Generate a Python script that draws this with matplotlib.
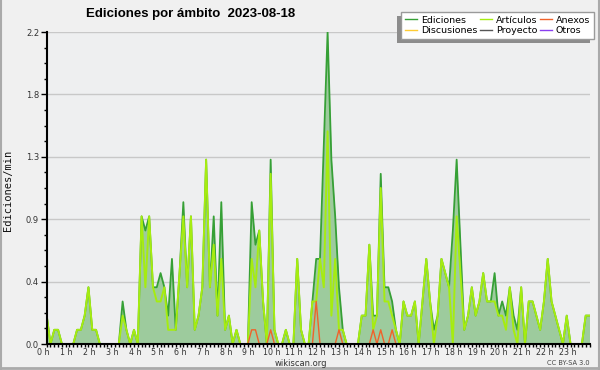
import matplotlib
matplotlib.use('Agg')
import matplotlib.pyplot as plt
import matplotlib.transforms as mtransforms
from matplotlib.lines import Line2D
from matplotlib.patches import Rectangle
import numpy as np

title = "Ediciones por ámbito  2023-08-18"
hour_labels = [f"{h} h" for h in range(24)]
ytick_values = [0.0, 0.44, 0.88, 1.32, 1.76, 2.2]
ytick_labels = ["0.0", "0.4", "0.9", "1.3", "1.8", "2.2"]
series_names = ["Ediciones", "Discusiones", "Artículos", "Proyecto", "Anexos", "Otros"]

# edits per minute, 10-minute bins (144 per day)
ediciones = [
    0.2, 0, 0.1, 0.1, 0, 0, 0, 0, 0.1, 0.1,
    0.2, 0.4, 0.1, 0.1, 0, 0, 0, 0, 0, 0,
    0.3, 0.1, 0, 0.1, 0, 0.9, 0.8, 0.9, 0.4, 0.4,
    0.5, 0.4, 0.2, 0.6, 0.1, 0.5, 1.0, 0.4, 0.9, 0.1,
    0.2, 0.4, 1.3, 0.4, 0.9, 0.2, 1.0, 0.1, 0.2, 0,
    0.1, 0, 0, 0, 1.0, 0.7, 0.8, 0.3, 0, 1.3,
    0.1, 0, 0, 0.1, 0, 0, 0.6, 0.1, 0, 0,
    0.3, 0.6, 0.6, 1.4, 2.2, 1.3, 0.9, 0.4, 0.1, 0,
    0, 0, 0, 0.2, 0.2, 0.7, 0.2, 0.2, 1.2, 0.4,
    0.4, 0.3, 0.1, 0, 0.3, 0.2, 0.2, 0.3, 0, 0.3,
    0.6, 0.3, 0.1, 0.2, 0.6, 0.5, 0.4, 0.8, 1.3, 0.7,
    0.1, 0.2, 0.4, 0.2, 0.3, 0.5, 0.3, 0.3, 0.5, 0.2,
    0.3, 0.2, 0.4, 0.2, 0.1, 0.4, 0, 0.3, 0.3, 0.2,
    0.1, 0.3, 0.6, 0.3, 0.2, 0.1, 0, 0.2, 0, 0,
    0, 0, 0.2, 0.2,
]
articulos = [
    0.2, 0, 0.1, 0.1, 0, 0, 0, 0, 0.1, 0.1,
    0.2, 0.4, 0.1, 0.1, 0, 0, 0, 0, 0, 0,
    0.2, 0.1, 0, 0.1, 0, 0.9, 0.4, 0.9, 0.4, 0.3,
    0.3, 0.4, 0.1, 0.1, 0.1, 0.5, 0.9, 0.4, 0.9, 0.1,
    0.2, 0.4, 1.3, 0.4, 0.7, 0.2, 0.6, 0.1, 0.2, 0,
    0.1, 0, 0, 0, 0.6, 0.4, 0.8, 0.3, 0, 1.2,
    0.1, 0, 0, 0.1, 0, 0, 0.6, 0.1, 0, 0,
    0.3, 0.3, 0.6, 0.4, 1.5, 0.2, 0.6, 0.1, 0.1, 0,
    0, 0, 0, 0.2, 0.2, 0.7, 0.1, 0.2, 1.1, 0.3,
    0.3, 0.2, 0.1, 0, 0.3, 0.2, 0.2, 0.3, 0, 0.3,
    0.6, 0.3, 0, 0.2, 0.6, 0.5, 0.4, 0, 0.9, 0.5,
    0.1, 0.2, 0.4, 0.2, 0.3, 0.5, 0.3, 0.3, 0.3, 0.2,
    0.2, 0.1, 0.4, 0.1, 0, 0.4, 0, 0.3, 0.3, 0.2,
    0.1, 0.3, 0.6, 0.3, 0.2, 0.1, 0, 0.2, 0, 0,
    0, 0, 0.2, 0.2,
]
anexos = [
    0, 0, 0, 0, 0, 0, 0, 0, 0, 0,
    0, 0, 0, 0, 0, 0, 0, 0, 0, 0,
    0, 0, 0, 0, 0, 0, 0, 0, 0, 0,
    0, 0, 0, 0, 0, 0, 0, 0, 0, 0,
    0, 0, 0, 0, 0, 0, 0, 0, 0, 0,
    0, 0, 0, 0, 0.1, 0.1, 0, 0, 0, 0.1,
    0, 0, 0, 0, 0, 0, 0, 0, 0, 0,
    0, 0.3, 0, 0, 0, 0, 0, 0.1, 0, 0,
    0, 0, 0, 0, 0, 0, 0.1, 0, 0.1, 0,
    0, 0.1, 0, 0, 0, 0, 0, 0, 0, 0,
    0, 0, 0, 0, 0, 0, 0, 0, 0, 0,
    0, 0, 0, 0, 0, 0, 0, 0, 0, 0,
    0, 0, 0, 0, 0, 0, 0, 0, 0, 0,
    0, 0, 0, 0, 0, 0, 0, 0, 0, 0,
    0, 0, 0, 0,
]

colors = {
    "Ediciones": "#36a036",
    "Discusiones": "#ffcc33",
    "Artículos": "#a6ec10",
    "Proyecto": "#555555",
    "Anexos": "#f0622a",
    "Otros": "#8a3ff0",
}
fill_color = "#9dcb9d"

W, H = 600, 370
fig = plt.figure(figsize=(6, 3.7), dpi=100, facecolor="#f0f0f0")
L, R, T, B = 46.7, 589.5, 32, 344
ax = fig.add_axes([L / W, 1 - B / H, (R - L) / W, (B - T) / H])
ax.set_facecolor("#eeeff0")

x = np.arange(len(ediciones))
ax.fill_between(x, ediciones, 0, color=fill_color, lw=0, zorder=1)
ax.plot(x, ediciones, color=colors["Ediciones"], lw=1.3, zorder=3)
ax.plot(x, articulos, color=colors["Artículos"], lw=1.4, zorder=4)
ax.plot(x, anexos, color=colors["Anexos"], lw=1.0, zorder=5)

ax.set_xlim(0, len(ediciones) - 1)
ax.set_ylim(0, 2.2)

ax.set_yticks(ytick_values)
ax.set_yticklabels(ytick_labels)
ax.set_yticks(np.arange(0, 2.21, 0.11), minor=True)
ax.set_xticks(np.arange(0, 144, 6))
ax.set_xticklabels(hour_labels)
ax.set_xticks(np.arange(0, 144, 1), minor=True)

ax.grid(axis="y", which="major", color="#c8c8c8", lw=1.0, zorder=0)
ax.set_axisbelow(True)
for s in ["top", "right"]:
    ax.spines[s].set_visible(False)
for s in ["left", "bottom"]:
    ax.spines[s].set_linewidth(1.5)
    ax.spines[s].set_color("black")
    ax.spines[s].set_zorder(6)

ax.tick_params(axis="y", which="major", length=4.5, width=1, pad=1, labelsize=6, labelcolor="#333333")
ax.tick_params(axis="y", which="minor", length=2.2, width=1)
ax.tick_params(axis="x", which="major", length=2.5, width=1, pad=0.2, labelsize=5.7, labelcolor="#333333")
ax.tick_params(axis="x", which="minor", length=2.5, width=1)

offset = mtransforms.ScaledTranslation(-0.03, 0, fig.dpi_scale_trans)
for lab in ax.get_xticklabels():
    lab.set_transform(lab.get_transform() + offset)

fig.text(86 / W, 1 - 13.5 / H, title, fontsize=9.5, fontweight="bold", family="Liberation Sans",
         ha="left", va="center", color="black")
fig.text(8 / W, 1 - 190 / H, "Ediciones/min", rotation=90, family="DejaVu Sans Mono",
         fontsize=7.5, ha="center", va="center", color="#111111")
fig.text(301 / W, 1 - 363 / H, "wikiscan.org", fontsize=6, ha="center", va="center", color="#333333")
fig.text(590 / W, 1 - 363 / H, "CC BY-SA 3.0", fontsize=4.8, ha="right", va="center", color="#444444")

handles = [Line2D([], [], color=colors[n], lw=1.0) for n in series_names]
leg = fig.legend(handles, series_names, ncol=3, loc="upper right",
                 bbox_to_anchor=(594 / W, 1 - 12 / H), fontsize=6.8, frameon=True,
                 fancybox=False, edgecolor="#9a9a9a", facecolor="white", framealpha=1,
                 handlelength=1.3, handletextpad=0.4, columnspacing=0.25,
                 labelspacing=0.12, borderpad=0.4, borderaxespad=0)
leg.get_frame().set_linewidth(1.0)
leg.set_zorder(10)

# drop shadow of the legend (offset left and down)
fig.canvas.draw()
bb = leg.get_window_extent()
shadow = Rectangle((bb.x0 - 4, bb.y0 - 4), bb.width, bb.height,
                   transform=mtransforms.IdentityTransform(),
                   facecolor="#8c8c8c", edgecolor="none", zorder=9)
fig.add_artist(shadow)

# figure border (left, bottom, right)
fig.add_artist(Line2D([0.5 / W, 0.5 / W], [0, 1], color="#aaaaaa", lw=1.5, transform=fig.transFigure))
fig.add_artist(Line2D([0, 1], [2.5 / H, 2.5 / H], color="#aaaaaa", lw=2, transform=fig.transFigure))
fig.add_artist(Line2D([1 - 1.5 / W, 1 - 1.5 / W], [0, 1], color="#aaaaaa", lw=1.5, transform=fig.transFigure))

fig.savefig("out.png", dpi=100, facecolor=fig.get_facecolor())
